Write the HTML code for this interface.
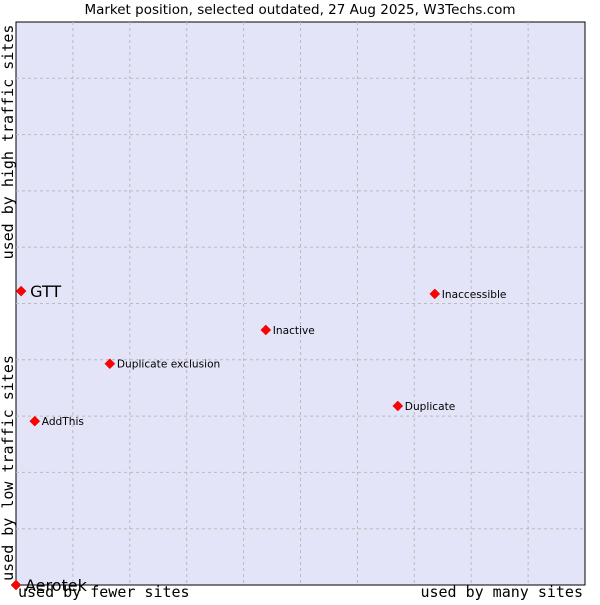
<!DOCTYPE html>
<html><head><meta charset="utf-8"><style>
body{margin:0;background:#fff;width:600px;height:600px;overflow:hidden}
svg text{font-family:"DejaVu Sans","Liberation Sans",sans-serif}
.mono{font-family:"DejaVu Sans Mono","Liberation Mono",monospace}
</style></head><body>
<svg width="600" height="600">
<text x="300" y="14" text-anchor="middle" font-size="13.5" fill="#000">Market position, selected outdated, 27 Aug 2025, W3Techs.com</text>
<rect x="16" y="22" width="569" height="563" fill="#e3e4f7" stroke="#000" stroke-width="1"/>
<g id="grid"></g>
<g id="pts"></g>
<text class="mono" transform="translate(13,142) rotate(-90)" text-anchor="middle" font-size="15">used by high traffic sites</text>
<text class="mono" transform="translate(13,468) rotate(-90)" text-anchor="middle" font-size="15">used by low traffic sites</text>
<text class="mono" x="18" y="597" font-size="15">used by fewer sites</text>
<text class="mono" x="583" y="597" text-anchor="end" font-size="15">used by many sites</text>
</svg>
<script>
const names=["GTT","Inaccessible","Inactive","Duplicate exclusion","Duplicate","AddThis","Aerotek"];
const xVals=[0.9,73.6,43.9,16.5,67.1,3.3,0];
const yVals=[52.2,51.7,45.3,39.3,31.8,29.1,0];
const bigLabel=[true,false,false,false,false,false,true];
const L=16,T=22,W=569,H=563;
const sx=v=>L+v/100*W, sy=v=>T+H-v/100*H;
const NS="http://www.w3.org/2000/svg";
const g=document.getElementById('grid');
for(let i=1;i<10;i++){
 const v=document.createElementNS(NS,'line');
 v.setAttribute('x1',sx(i*10));v.setAttribute('x2',sx(i*10));v.setAttribute('y1',T);v.setAttribute('y2',T+H);
 v.setAttribute('stroke','#bbbbbb');v.setAttribute('stroke-dasharray','3,3');
 
 
 g.appendChild(v);
 const h=document.createElementNS(NS,'line');
 h.setAttribute('y1',sy(i*10));h.setAttribute('y2',sy(i*10));h.setAttribute('x1',L);h.setAttribute('x2',L+W);
 h.setAttribute('stroke','#bbbbbb');h.setAttribute('stroke-dasharray','3,3');
 
 
 g.appendChild(h);
}
const p=document.getElementById('pts');
names.forEach((n,i)=>{
 const x=sx(xVals[i]),y=sy(yVals[i]);
 const d=document.createElementNS(NS,'path');
 d.setAttribute('d',`M${x} ${y-5}L${x+5} ${y}L${x} ${y+5}L${x-5} ${y}Z`);
 d.setAttribute('fill','#f00');d.setAttribute('stroke','#c00');d.setAttribute('stroke-width','0.5');
 
 
 p.appendChild(d);
 const t=document.createElementNS(NS,'text');
 t.setAttribute('x',x+(bigLabel[i]?9:7));
 t.setAttribute('y',y+(bigLabel[i]?6:4));
 t.setAttribute('font-size',bigLabel[i]?'16':'10.6');
 t.textContent=n;
 
 
 p.appendChild(t);
});
</script>
</body></html>
